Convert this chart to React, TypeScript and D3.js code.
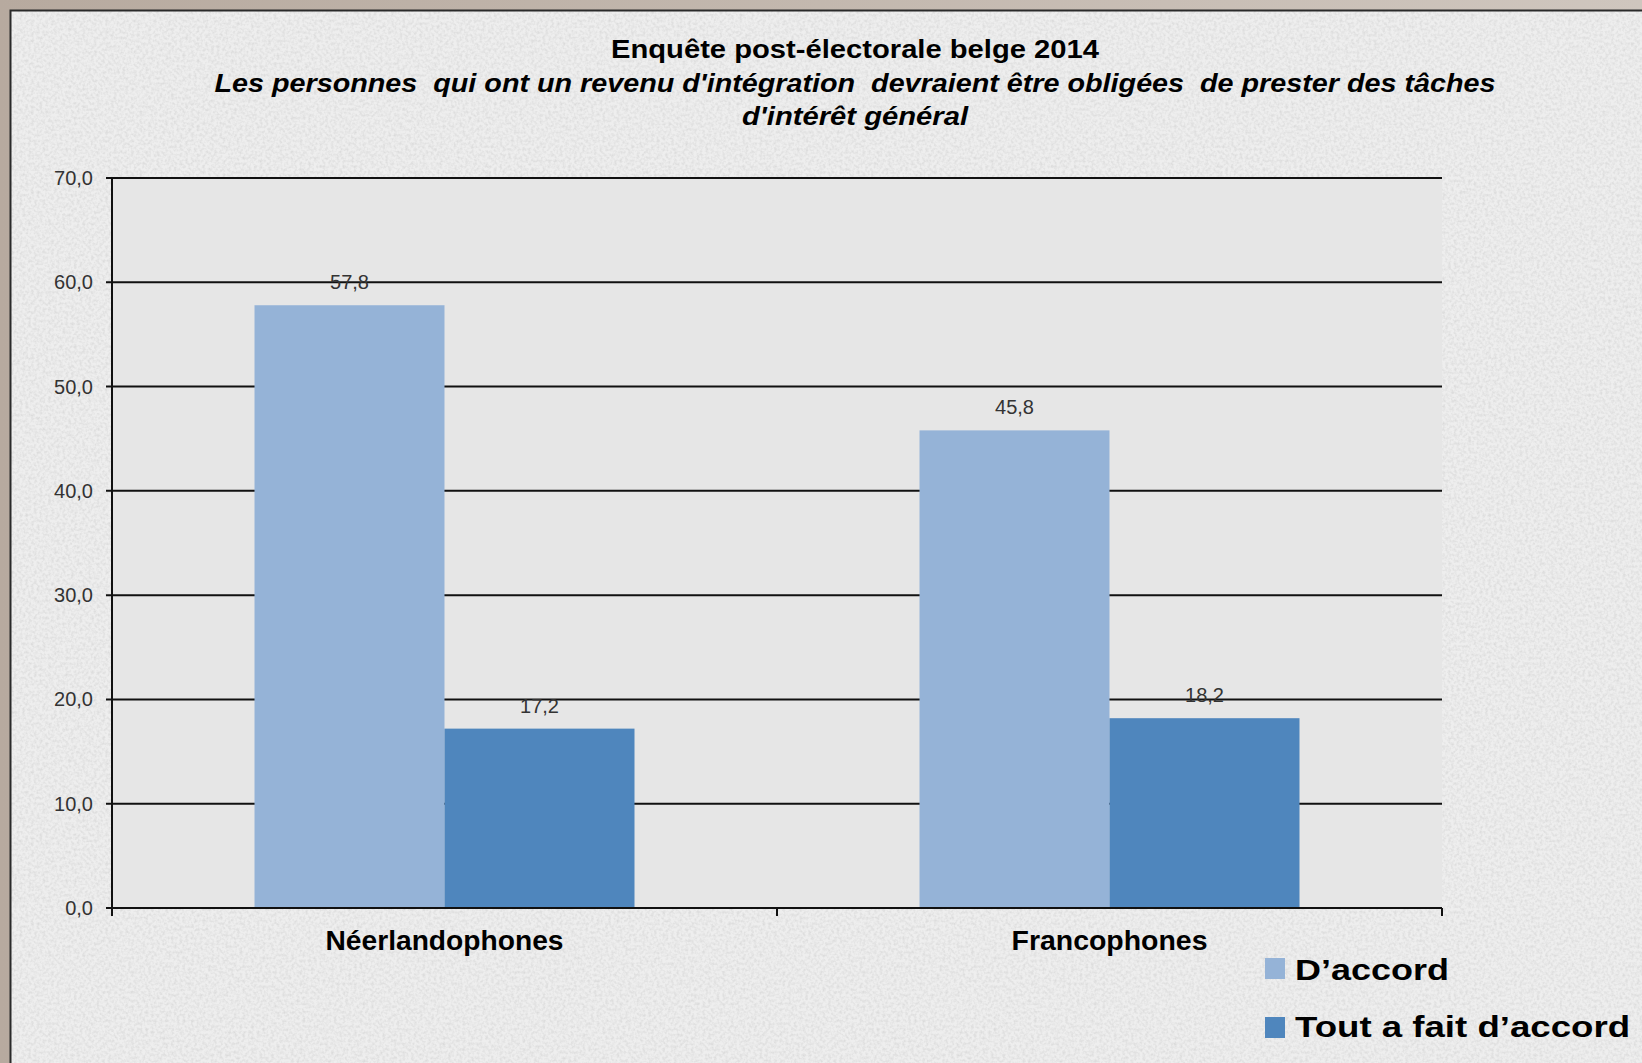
import React from "react";
import * as d3 from "d3";

const categories = ["Néerlandophones", "Francophones"];
const seriesNames = ["D’accord", "Tout a fait d’accord"];
const seriesColors = ["#95B3D7", "#4F86BD"];
const daccord = [57.8, 45.8];
const toutAFait = [17.2, 18.2];
const yTicks = [0, 10, 20, 30, 40, 50, 60, 70];
const titleLines = [
  "Enquête post-électorale belge 2014",
  "Les personnes  qui ont un revenu d'intégration  devraient être obligées  de prester des tâches",
  "d'intérêt général",
];

const W = 1642;
const H = 1063;
const M = { left: 112, right: 1442, top: 178, bottom: 908 };

export default function App() {
  const values = [daccord, toutAFait];
  const x0 = d3
    .scaleBand<string>()
    .domain(categories)
    .range([M.left, M.right])
    .paddingInner(1 - 380 / 665)
    .paddingOuter((1 - 380 / 665) / 2);
  const x1 = d3.scaleBand<string>().domain(seriesNames).range([0, x0.bandwidth()]).padding(0);
  const y = d3.scaleLinear().domain([0, 70]).range([M.bottom, M.top]);
  const fmt = (v: number) => d3.format(".1f")(v).replace(".", ",");
  const font = "'Liberation Sans', Arial, sans-serif";

  const titleY = [58, 92, 125];
  const titleLen = [488, 1281, 226];

  return (
    <svg
      width={W}
      height={H}
      style={{ position: "absolute", left: 0, top: 0, display: "block" }}
      fontFamily={font}
    >
      <defs>
        <linearGradient id="outer" x1="0" x2="1" y1="0" y2="0">
          <stop offset="0" stopColor="#b7aa9f" />
          <stop offset="1" stopColor="#cfc6be" />
        </linearGradient>
        <filter id="noise" x="0" y="0" width="100%" height="100%">
          <feTurbulence type="fractalNoise" baseFrequency="0.35" numOctaves="2" seed="3" result="t" />
          <feColorMatrix
            type="matrix"
            values="0 0 0 0 0.55  0 0 0 0 0.55  0 0 0 0 0.55  0 0 0 -1.6 1.0"
          />
        </filter>
      </defs>
      <rect x={0} y={0} width={W} height={H} fill="url(#outer)" />
      <rect x={10} y={10} width={W - 10} height={H - 10} fill="#eeeeee" />
      <rect x={10} y={10} width={W - 10} height={H - 10} filter="url(#noise)" opacity={0.55} />
      <path d={`M10.5,${H} V10.5 H${W}`} fill="none" stroke="#2a2a2a" strokeWidth={2} />

      {titleLines.map((t, i) => (
        <text
          key={i}
          x={855}
          y={titleY[i]}
          textAnchor="middle"
          fontSize={26}
          fontWeight="bold"
          fontStyle={i === 0 ? "normal" : "italic"}
          fill="#000"
          textLength={titleLen[i]}
          lengthAdjust="spacingAndGlyphs"
          style={{ whiteSpace: "pre" }}
        >
          {t}
        </text>
      ))}

      <rect x={M.left} y={M.top} width={M.right - M.left} height={M.bottom - M.top} fill="#e6e6e6" />

      {yTicks.map((t) => (
        <g key={t}>
          <line x1={M.left - 6} x2={M.right} y1={y(t)} y2={y(t)} stroke="#111" strokeWidth={2} />
          <text
            x={93}
            y={y(t)}
            dy="0.35em"
            textAnchor="end"
            fontSize={20}
            fill="#333"
          >
            {fmt(t)}
          </text>
        </g>
      ))}

      {categories.map((c, ci) =>
        seriesNames.map((s, si) => {
          const v = values[si][ci];
          const bx = (x0(c) as number) + (x1(s) as number);
          return (
            <g key={c + s}>
              <rect
                x={bx}
                y={y(v)}
                width={x1.bandwidth()}
                height={y(0) - y(v)}
                fill={seriesColors[si]}
              />
              <text
                x={bx + x1.bandwidth() / 2}
                y={y(v) - 16}
                textAnchor="middle"
                fontSize={20}
                fill="#333"
              >
                {fmt(v)}
              </text>
            </g>
          );
        })
      )}

      <line x1={M.left} x2={M.left} y1={M.top} y2={M.bottom + 8} stroke="#111" strokeWidth={2} />
      <line x1={M.left - 6} x2={M.right} y1={y(0)} y2={y(0)} stroke="#111" strokeWidth={2} />
      {[0, 1, 2].map((i) => {
        const xx = M.left + i * x0.step();
        return <line key={i} x1={xx} x2={xx} y1={M.bottom} y2={M.bottom + 8} stroke="#111" strokeWidth={2} />;
      })}

      {categories.map((c, i) => (
        <text
          key={c}
          x={(x0(c) as number) + x0.bandwidth() / 2}
          y={950}
          textAnchor="middle"
          fontSize={27}
          fontWeight="bold"
          fill="#000"
          textLength={i === 0 ? 238 : 196}
          lengthAdjust="spacingAndGlyphs"
        >
          {c}
        </text>
      ))}

      {seriesNames.map((s, i) => (
        <g key={s}>
          <rect x={1265} y={958 + i * 59} width={20} height={21} fill={seriesColors[i]} />
          <text
            x={1295}
            y={980 + i * 57}
            fontSize={30}
            fontWeight="bold"
            fill="#000"
            textLength={i === 0 ? 154 : 335}
            lengthAdjust="spacingAndGlyphs"
          >
            {s}
          </text>
        </g>
      ))}
    </svg>
  );
}
